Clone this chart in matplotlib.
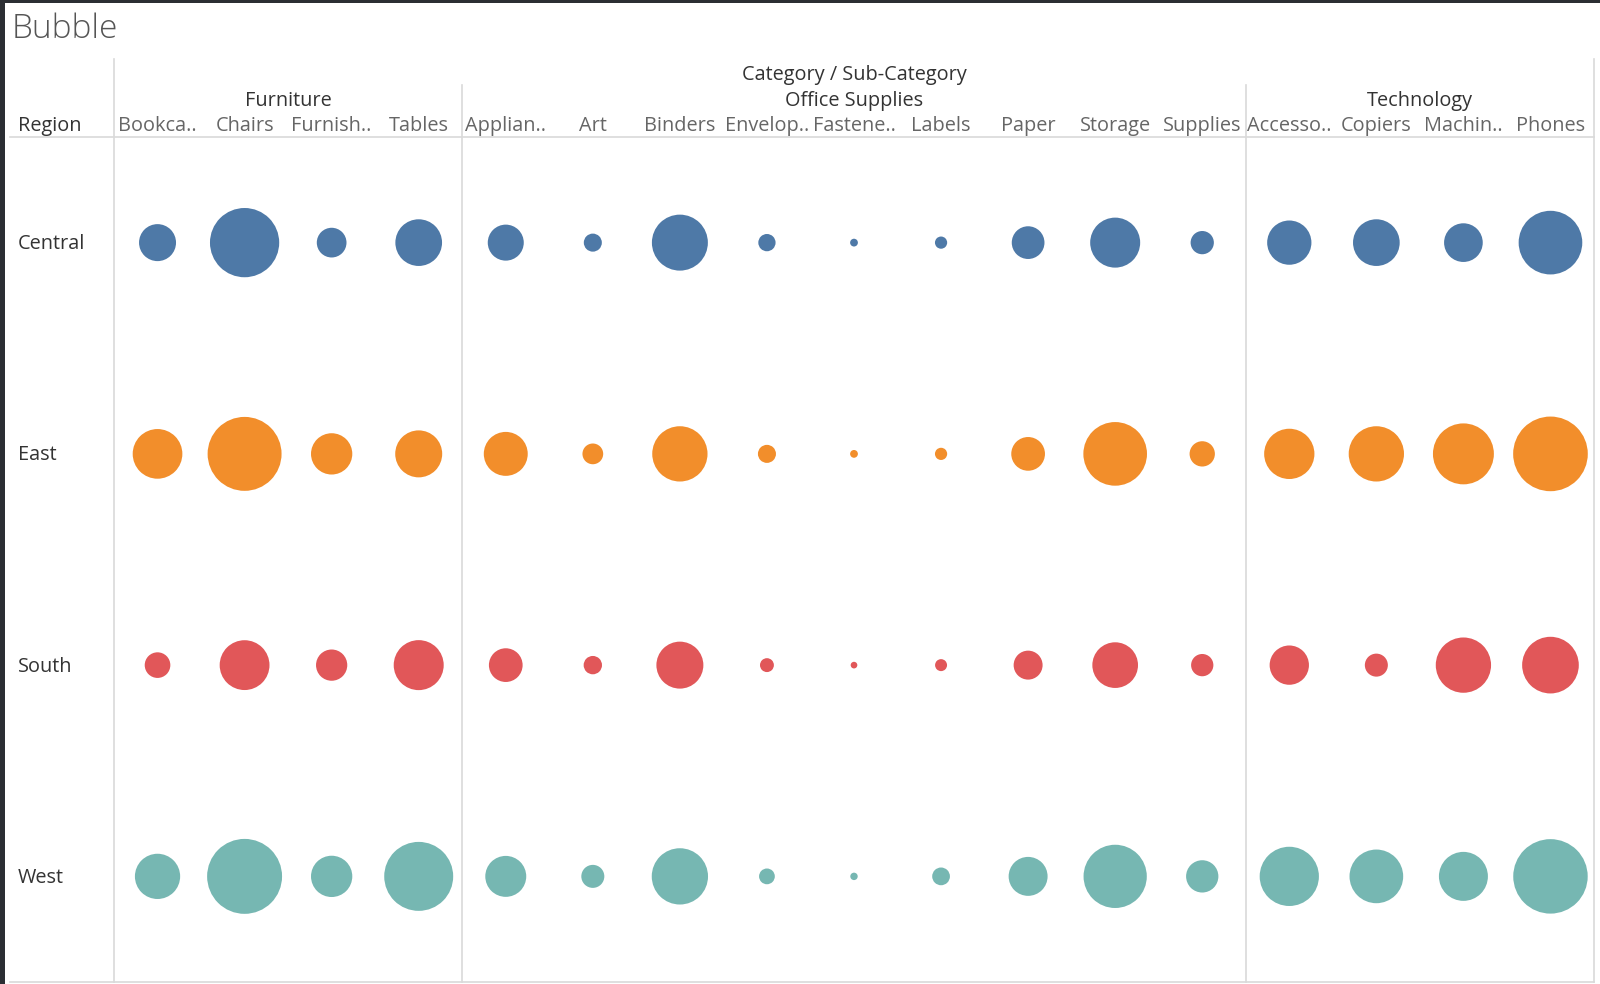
import numpy as np
import matplotlib.pyplot as plt
from matplotlib.patches import Rectangle
from matplotlib.transforms import blended_transform_factory, offset_copy

regions = ["Central", "East", "South", "West"]
categories = ["Furniture", "Office Supplies", "Technology"]
category_sizes = [4, 9, 4]
sub_labels = ["Bookca..", "Chairs", "Furnish..", "Tables",
              "Applian..", "Art", "Binders", "Envelop..", "Fastene..", "Labels",
              "Paper", "Storage", "Supplies",
              "Accesso..", "Copiers", "Machin..", "Phones"]

# sales in $K
sales_central = [24.8, 86.9, 16.0, 39.5, 23.5, 5.9, 56.8, 5.4, 1.1, 2.7,
                 19.4, 45.3, 9.8, 35.5, 39.5, 27.1, 73.4]
sales_east = [44.7, 99.1, 30.9, 40.0, 35.0, 7.8, 55.4, 5.9, 1.1, 2.7,
              20.6, 73.4, 11.6, 45.8, 55.4, 67.3, 101.0]
sales_south = [11.9, 45.0, 17.7, 45.3, 20.6, 6.1, 40.0, 3.5, 0.8, 2.6,
               15.2, 37.8, 9.0, 28.0, 9.6, 55.4, 58.2]
sales_west = [37.1, 101.8, 30.9, 86.2, 30.4, 9.6, 57.4, 4.5, 1.0, 5.7,
              27.5, 72.5, 18.9, 63.6, 52.2, 43.5, 100.5]
sales = [sales_central, sales_east, sales_south, sales_west]
region_colors = ["#4e79a7", "#f28e2b", "#e15759", "#76b7b2"]

W, H = 1600, 984
SIZE_SCALE = 28.6  # marker area (pt^2) per $K
GRID = "#d9d9d9"
FS = 14.3

plt.rcParams["font.family"] = ["Open Sans", "DejaVu Sans"]

fig = plt.figure(figsize=(W / 100, H / 100), dpi=100)
ax = fig.add_axes([114 / W, 2 / H, 1480 / W, 845 / H])
n_sub = len(sub_labels)
ax.set_xlim(-0.5, n_sub - 0.5)
ax.set_ylim(len(regions) - 0.5, -0.5)
ax.axis("off")

x = np.arange(n_sub)
for i, row in enumerate(sales):
    ax.scatter(x, np.full(n_sub, i), s=np.asarray(row) * SIZE_SCALE,
               color=region_colors[i], edgecolors="none", zorder=3)

# frame lines
xfig = blended_transform_factory(ax.transData, fig.transFigure)
yfig = blended_transform_factory(fig.transFigure, ax.transData)
top_full = 1 - 59 / H
top_cat = 1 - 85 / H
bottom = 1 - 982 / H
bounds = np.cumsum([0] + category_sizes) - 0.5
for k, b in enumerate(bounds):
    top = top_full if k in (0, len(bounds) - 1) else top_cat
    ax.plot([b, b], [bottom, top], transform=xfig, color=GRID, lw=1.2,
            clip_on=False)
for yy in (1 - 137 / H, bottom):
    fig.add_artist(plt.Line2D([10 / W, 1594 / W], [yy, yy], color=GRID, lw=1.2))

# headers
for xi, lab in zip(x, sub_labels):
    ax.text(xi, 1 - 126 / H, lab, transform=xfig, ha="center", va="center",
            fontsize=FS, color="#666666")
for k, cat in enumerate(categories):
    ax.text((bounds[k] + bounds[k + 1]) / 2, 1 - 101 / H, cat, transform=xfig,
            ha="center", va="center", fontsize=FS, color="#333333")
ax.text((n_sub - 1) / 2, 1 - 75 / H, "Category / Sub-Category", transform=xfig,
        ha="center", va="center", fontsize=FS, color="#333333")
fig.text(18 / W, 1 - 126 / H, "Region", ha="left", va="center",
         fontsize=FS, color="#333333")
ylab = offset_copy(yfig, fig=fig, y=-1, units="points")
for i, reg in enumerate(regions):
    ax.text(18 / W, i, reg, transform=ylab, ha="left", va="center",
            fontsize=FS, color="#333333")

fig.text(12 / W, 1 - 29 / H, "Bubble", ha="left", va="center",
         fontsize=24, color="#555555", fontweight="light")

# dark window edges
fig.add_artist(Rectangle((0, 0), 5 / W, 1, transform=fig.transFigure,
                         color="#2b2e33", lw=0))
fig.add_artist(Rectangle((0, 1 - 3 / H), 1, 3 / H, transform=fig.transFigure,
                         color="#2b2e33", lw=0))

fig.savefig("out.png", dpi=100)
plt.close(fig)
